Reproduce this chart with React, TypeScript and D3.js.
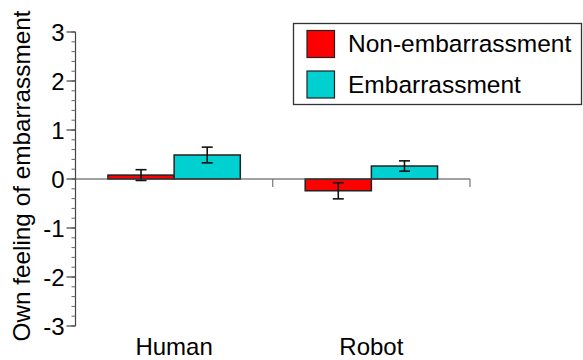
import * as d3 from "d3";
import { useEffect, useRef } from "react";

const categories = ["Human", "Robot"];
const seriesNames = ["Non-embarrassment", "Embarrassment"];
const seriesColors = ["#ff0000", "#00d0d0"];
// mean values per series, in category order
const nonEmbMeans = [0.08, -0.24];
const embMeans = [0.49, 0.265];
// standard errors
const nonEmbErr = [0.11, 0.165];
const embErr = [0.16, 0.105];
const yTicks = [-3, -2, -1, 0, 1, 2, 3];

export default function App() {
  const ref = useRef<SVGSVGElement>(null);

  useEffect(() => {
    const svg = d3.select(ref.current);
    svg.selectAll("*").remove();

    const font = "'Liberation Sans', Arial, sans-serif";
    const left = 75.5;
    const right = 470;
    const top = 32;
    const bottom = 326;

    const y = d3.scaleLinear().domain([-3, 3]).range([bottom, top]);
    const x0 = d3.scaleBand().domain(categories).range([left, right]).padding(0);
    const x1 = d3
      .scaleBand()
      .domain(seriesNames)
      .range([0, x0.bandwidth()])
      .paddingInner(0)
      .paddingOuter(0.49);

    const rows = categories.map((c, i) => ({
      cat: c,
      vals: [
        { s: seriesNames[0], v: nonEmbMeans[i], e: nonEmbErr[i], color: seriesColors[0] },
        { s: seriesNames[1], v: embMeans[i], e: embErr[i], color: seriesColors[1] },
      ],
    }));

    // y axis
    const yAxis = svg.append("g").attr("transform", `translate(${left},0)`);
    yAxis
      .append("line")
      .attr("y1", y(3))
      .attr("y2", y(-3))
      .attr("stroke", "#444")
      .attr("stroke-width", 1.2);
    const minor = d3.range(-3, 3.001, 0.2);
    yAxis
      .selectAll(".minor")
      .data(minor)
      .enter()
      .append("line")
      .attr("x1", -4)
      .attr("x2", 0)
      .attr("y1", (d) => y(d))
      .attr("y2", (d) => y(d))
      .attr("stroke", "#666")
      .attr("stroke-width", 1);
    yAxis
      .selectAll(".major")
      .data(yTicks)
      .enter()
      .append("line")
      .attr("x1", -9)
      .attr("x2", 0)
      .attr("y1", (d) => y(d))
      .attr("y2", (d) => y(d))
      .attr("stroke", "#444")
      .attr("stroke-width", 1.2);
    yAxis
      .selectAll("text")
      .data(yTicks)
      .enter()
      .append("text")
      .attr("x", -11)
      .attr("y", (d) => y(d))
      .attr("dy", "0.36em")
      .attr("text-anchor", "end")
      .attr("font-family", font)
      .attr("font-size", 24)
      .text((d) => String(d));

    // y label
    svg
      .append("text")
      .attr("transform", `translate(30,176) rotate(-90)`)
      .attr("text-anchor", "middle")
      .attr("font-family", font)
      .attr("font-size", 24.3)
      .text("Own feeling of embarrassment");

    // bars
    const groups = svg
      .selectAll(".grp")
      .data(rows)
      .enter()
      .append("g")
      .attr("transform", (d) => `translate(${x0(d.cat)},0)`);

    groups
      .selectAll("rect")
      .data((d) => d.vals)
      .enter()
      .append("rect")
      .attr("x", (d) => x1(d.s)!)
      .attr("width", x1.bandwidth())
      .attr("y", (d) => y(Math.max(0, d.v)))
      .attr("height", (d) => Math.abs(y(d.v) - y(0)))
      .attr("fill", (d) => d.color)
      .attr("stroke", "#222")
      .attr("stroke-width", 1.5);

    // error bars
    const eb = groups
      .selectAll(".err")
      .data((d) => d.vals)
      .enter()
      .append("g")
      .attr("stroke", "#111")
      .attr("stroke-width", 1.6);
    const cx = (d: any) => x1(d.s)! + x1.bandwidth() / 2;
    eb.append("line")
      .attr("x1", cx)
      .attr("x2", cx)
      .attr("y1", (d) => y(d.v + d.e))
      .attr("y2", (d) => y(d.v - d.e));
    eb.append("line")
      .attr("x1", (d) => cx(d) - 5.5)
      .attr("x2", (d) => cx(d) + 5.5)
      .attr("y1", (d) => y(d.v + d.e))
      .attr("y2", (d) => y(d.v + d.e));
    eb.append("line")
      .attr("x1", (d) => cx(d) - 5.5)
      .attr("x2", (d) => cx(d) + 5.5)
      .attr("y1", (d) => y(d.v - d.e))
      .attr("y2", (d) => y(d.v - d.e));

    // x axis at zero
    const xAxis = svg.append("g");
    xAxis
      .append("line")
      .attr("x1", left)
      .attr("x2", right)
      .attr("y1", y(0))
      .attr("y2", y(0))
      .attr("stroke", "#444")
      .attr("stroke-width", 1.2);
    xAxis
      .selectAll(".tk")
      .data(categories)
      .enter()
      .append("line")
      .attr("x1", (d) => x0(d)! + x0.bandwidth())
      .attr("x2", (d) => x0(d)! + x0.bandwidth())
      .attr("y1", y(0))
      .attr("y2", y(0) + 8)
      .attr("stroke", "#777")
      .attr("stroke-width", 1.2);
    xAxis
      .selectAll("text")
      .data(categories)
      .enter()
      .append("text")
      .attr("x", (d) => x0(d)! + x0.bandwidth() / 2)
      .attr("y", 354.5)
      .attr("text-anchor", "middle")
      .attr("font-family", font)
      .attr("font-size", 24)
      .text((d) => d);

    // legend
    const lg = svg.append("g");
    lg.append("rect")
      .attr("x", 293.5)
      .attr("y", 23.5)
      .attr("width", 288)
      .attr("height", 81)
      .attr("fill", "white")
      .attr("stroke", "#333")
      .attr("stroke-width", 1.3);
    const items = lg
      .selectAll(".item")
      .data(seriesNames)
      .enter()
      .append("g")
      .attr("transform", (_d, i) => `translate(0,${i * 40.5})`);
    items
      .append("rect")
      .attr("x", 307)
      .attr("y", 30.5)
      .attr("width", 27.5)
      .attr("height", 27)
      .attr("fill", (_d, i) => seriesColors[i])
      .attr("stroke", "#222")
      .attr("stroke-width", 1.2);
    items
      .append("text")
      .attr("x", 348)
      .attr("y", 52)
      .attr("font-family", font)
      .attr("font-size", 24.5)
      .text((d) => d);
  }, []);

  return (
    <svg
      ref={ref}
      width={583}
      height={360}
      style={{ position: "absolute", left: 0, top: 0, background: "white" }}
    />
  );
}
